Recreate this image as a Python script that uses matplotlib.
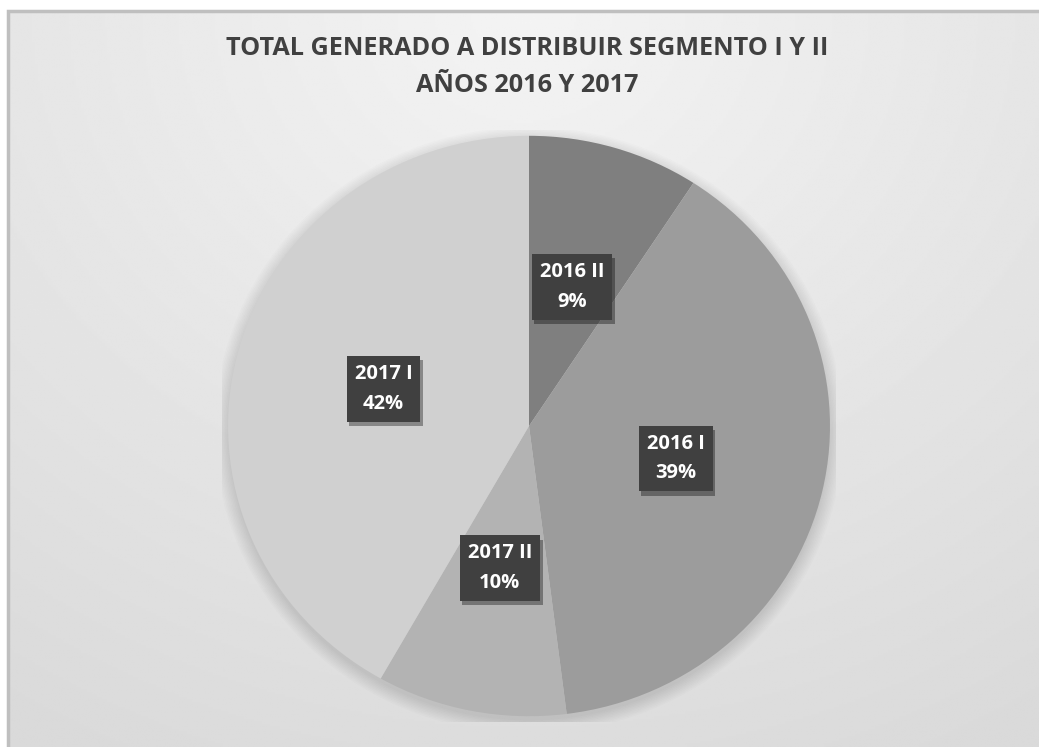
import numpy as np
import matplotlib
matplotlib.use("Agg")
import matplotlib.pyplot as plt
import matplotlib.patheffects as pe
from matplotlib.patches import Ellipse, Rectangle

# datos del grafico
etiquetas = ["2016 II", "2016 I", "2017 II", "2017 I"]
valores = [9.2, 38.8, 10.2, 41.8]
colores = ["#7f7f7f", "#9c9c9c", "#b3b3b3", "#d0d0d0"]
titulo = "TOTAL GENERADO A DISTRIBUIR SEGMENTO I Y II\nAÑOS 2016 Y 2017"

plt.rcParams['font.family'] = ['Open Sans', 'DejaVu Sans']

W, H = 1039, 747
fig = plt.figure(figsize=(W / 100, H / 100), dpi=100, facecolor="white")

# fondo con degradado
fondo = fig.add_axes([8 / W, 0, 1 - 8 / W, (H - 11) / H])
fondo.set_axis_off()
yy, xx = np.mgrid[0:1:300j, 0:1:400j]
r = np.sqrt(((xx - 0.5) * 1.1) ** 2 + (yy * 0.9) ** 2)
g = 0.955 - 0.10 * np.clip(r, 0, 1)
fondo.imshow(g, cmap="gray", vmin=0, vmax=1, aspect="auto", extent=[0, 1, 1, 0])
fondo.set_xlim(0, 1)
fondo.set_ylim(1, 0)
fondo.add_patch(Rectangle((0, -0.2), 1.2, 1.2, fill=False, ec="#bfbfbf", lw=2.5,
                          transform=fondo.transAxes, clip_on=False))

# titulo
fig.text(0.5 + 8 / W, 1 - 67 / H, titulo, ha="center", va="center", fontsize=18.2,
         fontweight="bold", color="#404040", linespacing=1.65)

# pastel
cx, cy, rx, ry = 529, 426, 307, 296
ax = fig.add_axes([(cx - rx) / W, (H - cy - ry) / H, 2 * rx / W, 2 * ry / H])
ax.set_axis_off()

# sombra suave
for k in range(10):
    ax.add_patch(Ellipse((0.0, -0.015), 2 + 0.01 * k, 2 + 0.01 * k, fc="black",
                         ec="none", alpha=0.01, zorder=0))

cunas, _ = ax.pie(valores, colors=colores, startangle=90, counterclock=False,
                  wedgeprops=dict(linewidth=0), radius=1)
for c in cunas:
    c.set_zorder(2)
ax.set_aspect("auto")
ax.set_xlim(-1.02, 1.02)
ax.set_ylim(-1.02, 1.02)

for c, lab, v in zip(cunas, etiquetas, valores):
    ang = np.deg2rad((c.theta1 + c.theta2) / 2)
    pct = v / sum(valores) * 100
    t = ax.text(0.5 * np.cos(ang), 0.5 * np.sin(ang), f"{lab}\n{pct:.0f}%",
                ha="center", va="center", color="white", fontsize=14.5,
                fontweight="bold", linespacing=1.65, zorder=5,
                bbox=dict(boxstyle="square,pad=0.4", fc="#404040", ec="none"))
    t.get_bbox_patch().set_path_effects([
        pe.SimplePatchShadow(offset=(2, -3), shadow_rgbFace="black", alpha=0.35),
        pe.Normal()])

fig.savefig("out.png", dpi=100, facecolor="white")
